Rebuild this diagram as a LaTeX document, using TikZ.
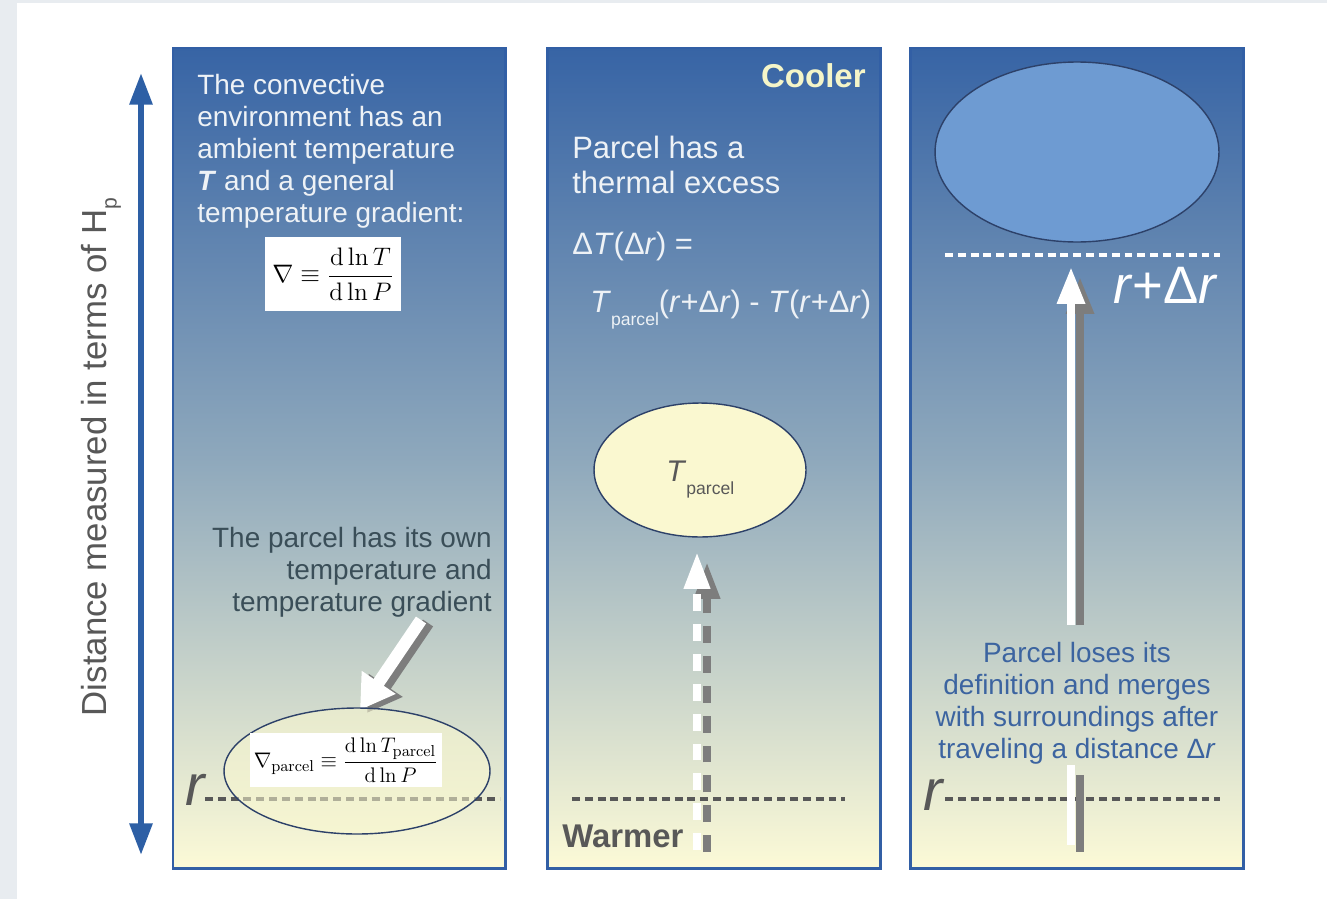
\documentclass[tikz,border=0pt]{standalone}
\usepackage[no-math]{fontspec}
\setmainfont{Liberation Sans}
\usepackage{amsmath}
\usetikzlibrary{arrows.meta,shapes.geometric}

\definecolor{paneltop}{RGB}{55,100,165}
\definecolor{panelmid}{RGB}{142,168,188}
\definecolor{panelbot}{RGB}{252,250,215}
\definecolor{panelrim}{RGB}{50,95,165}
\definecolor{axisblue}{RGB}{45,95,165}
\definecolor{inkgray}{RGB}{88,88,88}
\definecolor{slate}{RGB}{58,78,88}
\definecolor{lossblue}{RGB}{60,100,160}
\definecolor{cream}{RGB}{250,248,208}
\definecolor{coolblob}{RGB}{110,155,210}
\definecolor{blobrim}{RGB}{45,65,105}
\definecolor{shadowgray}{RGB}{125,125,125}
\definecolor{framegray}{RGB}{232,236,240}
\definecolor{paletext}{RGB}{238,242,246}
\definecolor{coolertext}{RGB}{245,245,200}

\newcommand{\fsz}[2]{\fontsize{#1}{#2}\selectfont}
\newcommand{\Tpar}{\textit{T}\raisebox{-7.5pt}{\fsz{10}{10}parcel}}
\newcommand{\rDr}{(\textit{r}+Δ\textit{r})}

\tikzset{
  panel/.style={draw=panelrim, line width=1.7pt, top color=paneltop,
    bottom color=panelbot, middle color=panelmid},
  body/.style={font=\fsz{15.9}{18.1}, inner sep=0pt},
  midbody/.style={font=\fsz{17.6}{19.8}, inner sep=0pt, text=paletext},
  rline/.style={draw=inkgray, line width=2.3pt, dash pattern=on 4.5pt off 2.8pt},
  bigr/.style={font=\fsz{33}{33}\itshape, text=inkgray, inner sep=0pt},
  parcel/.style={ellipse, draw=blobrim, line width=0.8pt, inner sep=0pt},
  formula/.style={fill=white, inner sep=0pt},
  fatwhite/.style={draw=white, line width=4.6pt, -{Triangle[length=21pt,width=15pt]}},
  fatshade/.style={draw=shadowgray, line width=4.6pt, -{Triangle[length=21pt,width=15pt]}}
}

\begin{document}
\begin{tikzpicture}[x=0.02cm, y=-0.02cm, >={Triangle[length=18pt,width=12.5pt]}]
\useasboundingbox (0,0) rectangle (1327,899);
\fill[framegray] (0,0) rectangle (17,899);
\fill[framegray] (0,0) rectangle (1327,3);

\node[rotate=90, font=\fsz{19.8}{22}, text=inkgray] (axislabel) at (101,457)
  {Distance measured in terms of H\raisebox{-6pt}{\fsz{12}{12}p}};
\coordinate (axtop) at (141,73);
\coordinate (axbot) at (141,855);
\draw[axisblue, line width=3.4pt, <->] (axtop) -- (axbot);

\draw[panel] (173,48) rectangle (505,868);
\draw[panel] (547,48) rectangle (880,868);
\draw[panel] (910,48) rectangle (1243,868);

% left panel
\node[body, text=paletext, align=left, anchor=base west] (envtext) at (197,222)
  {The convective\\environment has an\\ambient temperature\\\textbf{\textit{T}} and a general\\temperature gradient:};
\node[formula, minimum width=2.72cm, minimum height=1.5cm, font=\fsz{15.4}{18}] (envgrad) at (333,274)
  {$\displaystyle\nabla\equiv\frac{\mathrm{d}\ln T}{\mathrm{d}\ln P}$};
\node[body, text=slate, align=right, anchor=base east] (owntext) at (492,611)
  {The parcel has its own\\temperature and\\temperature gradient};
\coordinate (lineL1) at (205,799);
\coordinate (lineR1) at (500,799);
\draw[rline] (lineL1) -- (lineR1);
\coordinate (ptail) at (421,620);
\coordinate (ptip) at (360,710);
\draw[fatshade, line width=7pt, -{Triangle[length=19pt,width=22pt]}] ([shift={(7,3)}]ptail) -- ([shift={(7,3)}]ptip);
\draw[fatwhite, line width=7pt, -{Triangle[length=19pt,width=22pt]}] (ptail) -- (ptip);
\node[parcel, fill=cream, fill opacity=0.55, minimum width=5.32cm, minimum height=2.52cm] (lparcel) at (357,771) {};
\node[formula, minimum width=3.86cm, minimum height=1.08cm, font=\fsz{13}{15}] (pgrad) at (346,760)
  {$\displaystyle\nabla_{\mathrm{parcel}}\equiv\frac{\mathrm{d}\ln T_{\mathrm{parcel}}}{\mathrm{d}\ln P}$};
\node[bigr] (rleft) at (195,790) {r};

% middle panel
\node[font=\fsz{18.8}{20}\bfseries, text=coolertext, anchor=base east, inner sep=0pt] (cooler) at (866,87) {Cooler};
\node[midbody, align=left, anchor=base west] (excess) at (572,193) {Parcel has a\\thermal excess};
\node[midbody, anchor=base west] (dT) at (572,254) {Δ\textit{T}(Δ\textit{r}) =};
\node[midbody, anchor=base west] (dTdef) at (590,312) {\Tpar\rDr{} - \textit{T}\rDr};
\node[parcel, fill=cream, minimum width=4.24cm, minimum height=2.68cm] (mparcel) at (700,470) {};
\node[font=\fsz{17}{19}, text=inkgray, inner sep=0pt, anchor=base west] (tpar) at (666,481) {\Tpar};
\coordinate (lineL2) at (572,799);
\coordinate (lineR2) at (845,799);
\draw[rline] (lineL2) -- (lineR2);
\coordinate (riseS) at (707,852);
\coordinate (riseE) at (707,562);
\coordinate (riseW) at (697,850);
\coordinate (riseT) at (697,552);
\draw[fatshade, dash pattern=on 9.6pt off 7.4pt, -{Triangle[length=21pt,width=14pt]}] (riseS) -- (riseE);
\draw[fatwhite, dash pattern=on 9.6pt off 7.4pt, -{Triangle[length=21pt,width=14pt]}] (riseW) -- (riseT);
\node[font=\fsz{18.7}{20}\bfseries, text=inkgray, anchor=base west, inner sep=0pt] (warmer) at (562,847) {Warmer};

% right panel
\node[parcel, fill=coolblob, minimum width=5.68cm, minimum height=3.6cm] (cblob) at (1077,152) {};
\coordinate (lineL3) at (945,255);
\coordinate (lineR3) at (1220,255);
\draw[rline, draw=white] (lineL3) -- (lineR3);
\node[font=\fsz{30}{32}, text=white, anchor=base east, inner sep=0pt] (rplus) at (1218,303) {\textit{r}+Δ\textit{r}};
\coordinate (climbS) at (1080,625);
\coordinate (climbE) at (1080,277);
\coordinate (climbW) at (1071,625);
\coordinate (climbT) at (1071,267);
\draw[fatshade] (climbS) -- (climbE);
\draw[fatwhite] (climbW) -- (climbT);
\node[body, text=lossblue, align=center, anchor=base] (losstext) at (1077,758)
  {Parcel loses its\\definition and merges\\with surroundings after\\traveling a distance Δ\textit{r}};
\coordinate (lineL4) at (945,799);
\coordinate (lineR4) at (1220,799);
\draw[rline] (lineL4) -- (lineR4);
\coordinate (barWa) at (1071,765);
\coordinate (barWb) at (1071,845);
\coordinate (barGa) at (1080,775);
\coordinate (barGb) at (1080,852);
\draw[draw=white, line width=4.6pt] (barWa) -- (barWb);
\draw[draw=shadowgray, line width=4.6pt] (barGa) -- (barGb);
\node[bigr] (rright) at (933,795) {r};
\end{tikzpicture}
\end{document}
